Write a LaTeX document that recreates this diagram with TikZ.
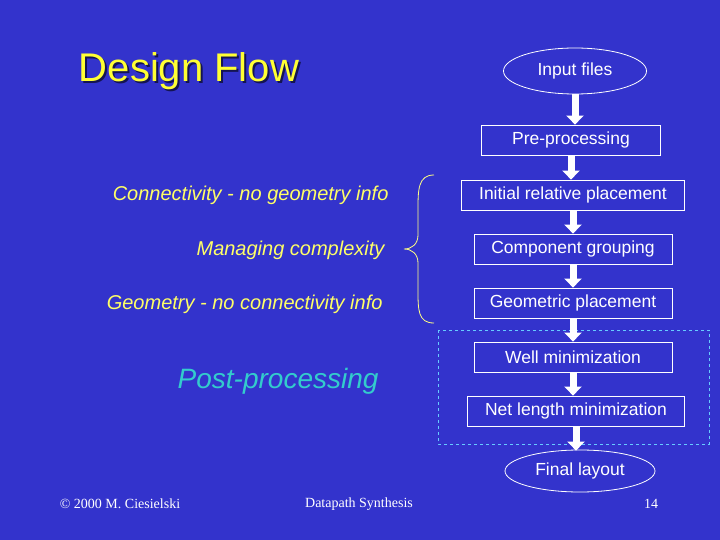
\documentclass[tikz,border=0pt]{standalone}
\usepackage{fontspec}
\setmainfont{Liberation Sans}
\newfontfamily\timesf{Liberation Serif}
\usetikzlibrary{arrows.meta,shapes.geometric}
\definecolor{bg}{HTML}{3333CC}
\definecolor{ttl}{HTML}{FFFF33}
\definecolor{lbl}{HTML}{FFFF66}
\definecolor{post}{HTML}{33CCCC}
\definecolor{dashcol}{HTML}{66CCFF}
\tikzset{
  x=1pt,y=-1pt,
  stepbox/.style={draw=white,line width=0.8pt,text=white,font=\fontsize{17.5}{19}\selectfont,minimum height=30pt,inner sep=0pt},
  term/.style={ellipse,draw=white,line width=0.8pt,text=white,font=\fontsize{17.5}{19}\selectfont,inner sep=0pt},
  flow/.style={draw=white,line width=7pt,-{Triangle[width=17pt,length=9pt]}},
  side/.style={text=lbl,font=\fontsize{20}{22}\selectfont\itshape,anchor=east},
  foot/.style={text=white,font=\fontsize{14}{16}\selectfont\timesf}
}
\begin{document}
\begin{tikzpicture}
\fill[bg] (0,0) rectangle (720,540);
\useasboundingbox (0,0) rectangle (720,540);
\node[text=black!60!bg,font=\fontsize{40}{44}\selectfont] at (191,73) {Design Flow};
\node (title) [text=ttl,font=\fontsize{40}{44}\selectfont] at (189,71) {Design Flow};
\draw[dashcol,dashed,line width=0.7pt] (438,330) rectangle (709,444);
\node (in) [term,minimum width=143pt,minimum height=46pt] at (575,71) {Input files};
\node (pre) [stepbox,minimum width=179pt] at (571,140) {Pre-processing};
\node (irp) [stepbox,minimum width=223pt] at (573,195) {Initial relative placement};
\node (cg) [stepbox,minimum width=198pt] at (573,249) {Component grouping};
\node (gp) [stepbox,minimum width=198pt] at (573,303) {Geometric placement};
\node (wm) [stepbox,minimum width=198pt] at (573,357) {Well minimization};
\node (nl) [stepbox,minimum width=217pt] at (576,411) {Net length minimization};
\node (fl) [term,minimum width=150pt,minimum height=42pt] at (580,471) {Final layout};
\draw[flow] (in.south) -- (in.south|-pre.north);
\draw[flow] (pre.south) -- (pre.south|-irp.north);
\draw[flow] (irp.south) -- (irp.south|-cg.north);
\draw[flow] (cg.south) -- (cg.south|-gp.north);
\draw[flow] (gp.south) -- (gp.south|-wm.north);
\draw[flow] (wm.south) -- (wm.south|-nl.north);
\draw[flow] (nl.south) -- ([yshift=-1pt]nl.south|-fl.north);
\node (c1) [side] at (392,195) {Connectivity - no geometry info};
\node (c2) [side] at (388,250) {Managing complexity};
\node (c3) [side] at (386,304) {Geometry - no connectivity info};
\node (pp) [text=post,font=\fontsize{28}{30}\selectfont\itshape,anchor=east] at (382,381) {Post-processing};
\draw[lbl!80!white,line width=0.8pt] (434,175) .. controls (418,175) and (418,190) .. (418,210)
  -- (418,235) .. controls (418,244) and (412,249) .. (404,249)
  .. controls (412,249) and (418,254) .. (418,263) -- (418,290)
  .. controls (418,310) and (418,323) .. (434,323);
\node (f1) [foot] at (120,504) {© 2000 M. Ciesielski};
\node (f2) [foot] at (359,504) {Datapath Synthesis};
\node (f3) [foot] at (651,504) {14};
\end{tikzpicture}
\end{document}
